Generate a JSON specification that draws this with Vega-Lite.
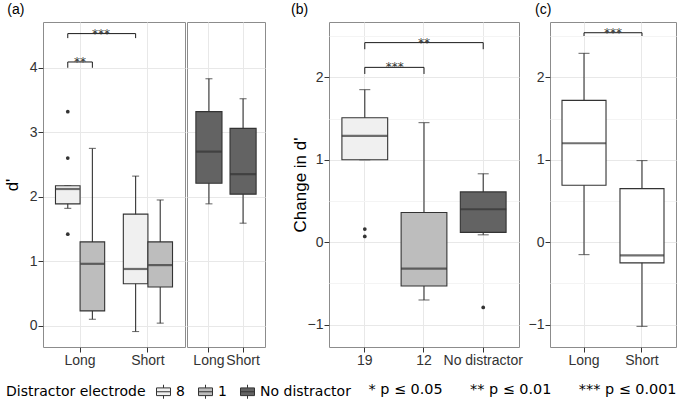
{
  "$schema": "https://vega.github.io/schema/vega-lite/v6.json",
  "padding": {"left": 2, "top": 2, "right": 5, "bottom": 2},
  "background": "white",
  "title": {"text": "* p ≤ 0.05\u00a0\u00a0\u00a0\u00a0\u00a0\u00a0** p ≤ 0.01\u00a0\u00a0\u00a0\u00a0\u00a0\u00a0*** p ≤ 0.001", "orient": "bottom", "anchor": "end", "frame": "bounds", "font": "DejaVu Sans", "fontSize": 14.4, "fontWeight": "normal", "color": "#000", "offset": -18},
  "datasets": {
    "a_box": [
      {"duration": "Long", "electrode": "8", "lo": 1.82, "q1": 1.89, "med": 2.12, "q3": 2.17, "hi": 2.17},
      {"duration": "Long", "electrode": "1", "lo": 0.10, "q1": 0.23, "med": 0.96, "q3": 1.30, "hi": 2.75},
      {"duration": "Short", "electrode": "8", "lo": -0.09, "q1": 0.65, "med": 0.88, "q3": 1.73, "hi": 2.32},
      {"duration": "Short", "electrode": "1", "lo": 0.04, "q1": 0.60, "med": 0.94, "q3": 1.30, "hi": 1.95},
      {"duration": "Long", "electrode": "No distractor", "lo": 1.89, "q1": 2.21, "med": 2.70, "q3": 3.32, "hi": 3.83},
      {"duration": "Short", "electrode": "No distractor", "lo": 1.59, "q1": 2.04, "med": 2.35, "q3": 3.06, "hi": 3.52}
    ],
    "a_out": [
      {"duration": "Long", "electrode": "8", "value": 3.32},
      {"duration": "Long", "electrode": "8", "value": 2.60},
      {"duration": "Long", "electrode": "8", "value": 1.42}
    ],
    "a_br": [
      {"id": "a1", "duration": "Long", "electrode": "8", "y": 4.0, "o": 1},
      {"id": "a1", "duration": "Long", "electrode": "8", "y": 4.09, "o": 2},
      {"id": "a1", "duration": "Long", "electrode": "1", "y": 4.09, "o": 3},
      {"id": "a1", "duration": "Long", "electrode": "1", "y": 4.0, "o": 4},
      {"id": "a2", "duration": "Long", "electrode": "8", "y": 4.46, "o": 1},
      {"id": "a2", "duration": "Long", "electrode": "8", "y": 4.53, "o": 2},
      {"id": "a2", "duration": "Short", "electrode": "8", "y": 4.53, "o": 3},
      {"id": "a2", "duration": "Short", "electrode": "8", "y": 4.46, "o": 4}
    ],
    "a_sig": [
      {"id": "a1", "duration": "Long", "y": 4.09, "label": "**"},
      {"id": "a2", "duration": "Long", "y": 4.53, "label": "***"}
    ],
    "b_box": [
      {"electrode": "19", "lo": 1.00, "q1": 1.00, "med": 1.29, "q3": 1.51, "hi": 1.85},
      {"electrode": "12", "lo": -0.70, "q1": -0.53, "med": -0.32, "q3": 0.36, "hi": 1.45},
      {"electrode": "No distractor", "lo": 0.09, "q1": 0.12, "med": 0.40, "q3": 0.61, "hi": 0.83}
    ],
    "b_out": [
      {"electrode": "19", "value": 0.16},
      {"electrode": "19", "value": 0.07},
      {"electrode": "No distractor", "value": -0.79}
    ],
    "b_br": [
      {"id": "b1", "electrode": "19", "y": 2.34, "o": 1},
      {"id": "b1", "electrode": "19", "y": 2.42, "o": 2},
      {"id": "b1", "electrode": "No distractor", "y": 2.42, "o": 3},
      {"id": "b1", "electrode": "No distractor", "y": 2.34, "o": 4},
      {"id": "b2", "electrode": "19", "y": 2.04, "o": 1},
      {"id": "b2", "electrode": "19", "y": 2.12, "o": 2},
      {"id": "b2", "electrode": "12", "y": 2.12, "o": 3},
      {"id": "b2", "electrode": "12", "y": 2.04, "o": 4}
    ],
    "b_sig": [
      {"id": "b1", "electrode": "12", "y": 2.42, "label": "**"},
      {"id": "b2", "electrode": "19", "y": 2.12, "label": "***"}
    ],
    "c_box": [
      {"duration": "Long", "lo": -0.15, "q1": 0.69, "med": 1.20, "q3": 1.72, "hi": 2.29},
      {"duration": "Short", "lo": -1.02, "q1": -0.25, "med": -0.16, "q3": 0.65, "hi": 0.99}
    ],
    "c_br": [
      {"id": "c1", "duration": "Long", "y": 2.50, "o": 1},
      {"id": "c1", "duration": "Long", "y": 2.54, "o": 2},
      {"id": "c1", "duration": "Short", "y": 2.54, "o": 3},
      {"id": "c1", "duration": "Short", "y": 2.50, "o": 4}
    ],
    "c_sig": [
      {"id": "c1", "duration": "Long", "y": 2.54, "label": "***"}
    ]
  },
  "hconcat": [
    {
      "hconcat": [
        {
          "width": 142, "height": 325,
          "title": {"text": "(a)", "dx": 4},
          "encoding": {"x": {"field": "duration", "type": "nominal", "scale": {"domain": ["Long", "Short"], "paddingInner": 0.275, "paddingOuter": 0.184}, "axis": {"title": null, "labelAngle": 0}}},
          "layer": [
            {"data": {"name": "a_box"}, "transform": [{"filter": "datum.electrode !== 'No distractor'"}],
             "mark": {"type": "rule", "color": "#333", "strokeWidth": 1.1},
             "encoding": {
               "xOffset": {"field": "electrode", "type": "nominal", "scale": {"domain": ["8", "1"], "paddingInner": 0, "paddingOuter": 0}},
               "y": {"field": "lo", "type": "quantitative", "scale": {"domain": [-0.33, 4.71], "nice": false, "zero": false},
                     "axis": {"title": "d'", "values": [0, 0.5, 1, 1.5, 2, 2.5, 3, 3.5, 4, 4.5], "labelExpr": "datum.value % 1 === 0 ? format(datum.value, 'd') : ''", "labelOverlap": false, "titlePadding": 8,
                              "tickColor": {"condition": {"test": "datum.value % 1 !== 0", "value": "transparent"}, "value": "#333"},
                              "gridColor": {"condition": {"test": "datum.value % 1 !== 0", "value": "#f4f4f4"}, "value": "#e8e8e8"}}},
               "y2": {"field": "hi"}}},
            {"data": {"name": "a_box"}, "transform": [{"filter": "datum.electrode !== 'No distractor'"}],
             "mark": {"type": "tick", "color": "#333", "size": 7, "thickness": 1.1},
             "encoding": {"xOffset": {"field": "electrode", "type": "nominal", "scale": {"domain": ["8", "1"], "paddingInner": 0, "paddingOuter": 0}},
               "y": {"field": "lo", "type": "quantitative", "scale": {"domain": [-0.33, 4.71], "nice": false, "zero": false}}}},
            {"data": {"name": "a_box"}, "transform": [{"filter": "datum.electrode !== 'No distractor'"}],
             "mark": {"type": "tick", "color": "#333", "size": 7, "thickness": 1.1},
             "encoding": {"xOffset": {"field": "electrode", "type": "nominal", "scale": {"domain": ["8", "1"], "paddingInner": 0, "paddingOuter": 0}},
               "y": {"field": "hi", "type": "quantitative", "scale": {"domain": [-0.33, 4.71], "nice": false, "zero": false}}}},
            {"data": {"name": "a_box"}, "transform": [{"filter": "datum.electrode !== 'No distractor'"}],
             "mark": {"type": "bar", "stroke": "#333", "strokeWidth": 1.1},
             "encoding": {"xOffset": {"field": "electrode", "type": "nominal", "scale": {"domain": ["8", "1"], "paddingInner": 0, "paddingOuter": 0}},
               "y": {"field": "q1", "type": "quantitative", "scale": {"domain": [-0.33, 4.71], "nice": false, "zero": false}},
               "y2": {"field": "q3"},
               "fill": {"field": "electrode", "type": "nominal", "scale": {"domain": ["8", "1", "No distractor"], "range": ["#f0f0f0", "#bdbdbd", "#636363"]},
                        "legend": {"orient": "none", "legendX": -37, "legendY": 362, "direction": "horizontal", "title": "Distractor electrode", "titleOrient": "left", "titleFont": "DejaVu Sans", "titleFontSize": 14, "titleFontWeight": "normal", "titleColor": "#000", "titlePadding": 10, "labelFont": "DejaVu Sans", "labelFontSize": 14, "labelColor": "#000", "labelOffset": 5, "columnPadding": 11, "symbolType": "M-1,-0.55H1V0.55H-1Z M-1,0H1 M0,-0.55V-1 M0,0.55V1", "symbolSize": 196, "symbolStrokeColor": "#333", "symbolStrokeWidth": 1}}}},
            {"data": {"name": "a_box"}, "transform": [{"filter": "datum.electrode !== 'No distractor'"}],
             "mark": {"type": "tick", "color": "#333", "size": 24, "thickness": 2.2},
             "encoding": {"xOffset": {"field": "electrode", "type": "nominal", "scale": {"domain": ["8", "1"], "paddingInner": 0, "paddingOuter": 0}},
               "y": {"field": "med", "type": "quantitative", "scale": {"domain": [-0.33, 4.71], "nice": false, "zero": false}}}},
            {"data": {"name": "a_out"},
             "mark": {"type": "point", "filled": true, "color": "#333", "size": 14, "opacity": 1},
             "encoding": {"xOffset": {"field": "electrode", "type": "nominal", "scale": {"domain": ["8", "1"], "paddingInner": 0, "paddingOuter": 0}},
               "y": {"field": "value", "type": "quantitative", "scale": {"domain": [-0.33, 4.71], "nice": false, "zero": false}}}},
            {"data": {"name": "a_br"},
             "mark": {"type": "line", "color": "#1a1a1a", "strokeWidth": 1},
             "encoding": {"xOffset": {"field": "electrode", "type": "nominal", "scale": {"domain": ["8", "1"], "paddingInner": 0, "paddingOuter": 0}},
               "y": {"field": "y", "type": "quantitative", "scale": {"domain": [-0.33, 4.71], "nice": false, "zero": false}},
               "detail": {"field": "id"}, "order": {"field": "o"}}},
            {"data": {"name": "a_sig"}, "transform": [{"filter": "datum.id === 'a1'"}],
             "mark": {"type": "text", "font": "DejaVu Sans", "fontSize": 12, "color": "#333", "baseline": "alphabetic", "dy": 4},
             "encoding": {"y": {"field": "y", "type": "quantitative", "scale": {"domain": [-0.33, 4.71], "nice": false, "zero": false}}, "text": {"field": "label"}}},
            {"data": {"name": "a_sig"}, "transform": [{"filter": "datum.id === 'a2'"}],
             "mark": {"type": "text", "font": "DejaVu Sans", "fontSize": 12, "color": "#333", "baseline": "alphabetic", "dy": 4, "dx": 21},
             "encoding": {"y": {"field": "y", "type": "quantitative", "scale": {"domain": [-0.33, 4.71], "nice": false, "zero": false}}, "text": {"field": "label"}}}
          ]
        },
        {
          "width": 78, "height": 325,
          "encoding": {"x": {"field": "duration", "type": "nominal", "scale": {"domain": ["Long", "Short"], "paddingInner": 0.235, "paddingOuter": 0.26}, "axis": {"title": null, "labelAngle": 0}}},
          "layer": [
            {"data": {"name": "a_box"}, "transform": [{"filter": "datum.electrode === 'No distractor'"}],
             "mark": {"type": "rule", "color": "#333", "strokeWidth": 1.1},
             "encoding": {
               "y": {"field": "lo", "type": "quantitative", "scale": {"domain": [-0.33, 4.71], "nice": false, "zero": false},
                     "axis": {"title": null, "values": [0, 0.5, 1, 1.5, 2, 2.5, 3, 3.5, 4, 4.5], "labels": false, "ticks": false, "domain": false,
                              "gridColor": {"condition": {"test": "datum.value % 1 !== 0", "value": "#f4f4f4"}, "value": "#e8e8e8"}}},
               "y2": {"field": "hi"}}},
            {"data": {"name": "a_box"}, "transform": [{"filter": "datum.electrode === 'No distractor'"}],
             "mark": {"type": "tick", "color": "#333", "size": 7, "thickness": 1.1},
             "encoding": {"y": {"field": "lo", "type": "quantitative", "scale": {"domain": [-0.33, 4.71], "nice": false, "zero": false}}}},
            {"data": {"name": "a_box"}, "transform": [{"filter": "datum.electrode === 'No distractor'"}],
             "mark": {"type": "tick", "color": "#333", "size": 7, "thickness": 1.1},
             "encoding": {"y": {"field": "hi", "type": "quantitative", "scale": {"domain": [-0.33, 4.71], "nice": false, "zero": false}}}},
            {"data": {"name": "a_box"}, "transform": [{"filter": "datum.electrode === 'No distractor'"}],
             "mark": {"type": "bar", "stroke": "#333", "strokeWidth": 1.1},
             "encoding": {
               "y": {"field": "q1", "type": "quantitative", "scale": {"domain": [-0.33, 4.71], "nice": false, "zero": false}},
               "y2": {"field": "q3"},
               "fill": {"field": "electrode", "type": "nominal", "scale": {"domain": ["8", "1", "No distractor"], "range": ["#f0f0f0", "#bdbdbd", "#636363"]}}}},
            {"data": {"name": "a_box"}, "transform": [{"filter": "datum.electrode === 'No distractor'"}],
             "mark": {"type": "tick", "color": "#333", "size": 26, "thickness": 2.2},
             "encoding": {"y": {"field": "med", "type": "quantitative", "scale": {"domain": [-0.33, 4.71], "nice": false, "zero": false}}}}
          ]
        }
      ],
      "spacing": 0,
      "resolve": {"scale": {"x": "independent", "y": "independent", "fill": "shared"}}
    },
    {
      "hconcat": [
        {
          "width": 190, "height": 325,
          "title": {"text": "(b)", "dx": 0},
          "encoding": {"x": {"field": "electrode", "type": "nominal", "scale": {"domain": ["19", "12", "No distractor"], "paddingInner": 0.227, "paddingOuter": 0.218}, "axis": {"title": null, "labelAngle": 0}}},
          "layer": [
            {"data": {"name": "b_box"},
             "mark": {"type": "rule", "color": "#333", "strokeWidth": 1.1},
             "encoding": {
               "y": {"field": "lo", "type": "quantitative", "scale": {"domain": [-1.27, 2.67], "nice": false, "zero": false},
                     "axis": {"title": "Change in d'", "values": [-1, -0.5, 0, 0.5, 1, 1.5, 2, 2.5], "labelExpr": "datum.value % 1 === 0 ? format(datum.value, 'd') : ''", "labelOverlap": false, "titlePadding": -2,
                              "tickColor": {"condition": {"test": "datum.value % 1 !== 0", "value": "transparent"}, "value": "#333"},
                              "gridColor": {"condition": {"test": "datum.value % 1 !== 0", "value": "#f4f4f4"}, "value": "#e8e8e8"}}},
               "y2": {"field": "hi"}}},
            {"data": {"name": "b_box"},
             "mark": {"type": "tick", "color": "#333", "size": 11, "thickness": 1.1},
             "encoding": {"y": {"field": "lo", "type": "quantitative", "scale": {"domain": [-1.27, 2.67], "nice": false, "zero": false}}}},
            {"data": {"name": "b_box"},
             "mark": {"type": "tick", "color": "#333", "size": 11, "thickness": 1.1},
             "encoding": {"y": {"field": "hi", "type": "quantitative", "scale": {"domain": [-1.27, 2.67], "nice": false, "zero": false}}}},
            {"data": {"name": "b_box"},
             "mark": {"type": "bar", "stroke": "#333", "strokeWidth": 1.1},
             "encoding": {
               "y": {"field": "q1", "type": "quantitative", "scale": {"domain": [-1.27, 2.67], "nice": false, "zero": false}},
               "y2": {"field": "q3"},
               "color": {"field": "electrode", "type": "nominal", "scale": {"domain": ["19", "12", "No distractor"], "range": ["#f0f0f0", "#bdbdbd", "#636363"]}, "legend": null}}},
            {"data": {"name": "b_box"},
             "mark": {"type": "tick", "color": "#333", "size": 46, "thickness": 2.2},
             "encoding": {"y": {"field": "med", "type": "quantitative", "scale": {"domain": [-1.27, 2.67], "nice": false, "zero": false}}}},
            {"data": {"name": "b_out"},
             "mark": {"type": "point", "filled": true, "color": "#333", "size": 14, "opacity": 1},
             "encoding": {"y": {"field": "value", "type": "quantitative", "scale": {"domain": [-1.27, 2.67], "nice": false, "zero": false}}}},
            {"data": {"name": "b_br"},
             "mark": {"type": "line", "color": "#1a1a1a", "strokeWidth": 1},
             "encoding": {"y": {"field": "y", "type": "quantitative", "scale": {"domain": [-1.27, 2.67], "nice": false, "zero": false}},
               "detail": {"field": "id"}, "order": {"field": "o"}}},
            {"data": {"name": "b_sig"}, "transform": [{"filter": "datum.id === 'b1'"}],
             "mark": {"type": "text", "font": "DejaVu Sans", "fontSize": 12, "color": "#333", "baseline": "alphabetic", "dy": 4},
             "encoding": {"y": {"field": "y", "type": "quantitative", "scale": {"domain": [-1.27, 2.67], "nice": false, "zero": false}}, "text": {"field": "label"}}},
            {"data": {"name": "b_sig"}, "transform": [{"filter": "datum.id === 'b2'"}],
             "mark": {"type": "text", "font": "DejaVu Sans", "fontSize": 12, "color": "#333", "baseline": "alphabetic", "dy": 4, "dx": 30},
             "encoding": {"y": {"field": "y", "type": "quantitative", "scale": {"domain": [-1.27, 2.67], "nice": false, "zero": false}}, "text": {"field": "label"}}}
          ]
        },
        {
          "width": 126, "height": 325,
          "title": {"text": "(c)", "dx": 7},
          "encoding": {"x": {"field": "duration", "type": "nominal", "scale": {"domain": ["Long", "Short"], "paddingInner": 0.241, "paddingOuter": 0.207}, "axis": {"title": null, "labelAngle": 0}}},
          "layer": [
            {"data": {"name": "c_box"},
             "mark": {"type": "rule", "color": "#333", "strokeWidth": 1.1},
             "encoding": {
               "y": {"field": "lo", "type": "quantitative", "scale": {"domain": [-1.27, 2.67], "nice": false, "zero": false},
                     "axis": {"title": null, "values": [-1, -0.5, 0, 0.5, 1, 1.5, 2, 2.5], "labelExpr": "datum.value % 1 === 0 ? format(datum.value, 'd') : ''", "labelOverlap": false,
                              "tickColor": {"condition": {"test": "datum.value % 1 !== 0", "value": "transparent"}, "value": "#333"},
                              "gridColor": {"condition": {"test": "datum.value % 1 !== 0", "value": "#f4f4f4"}, "value": "#e8e8e8"}}},
               "y2": {"field": "hi"}}},
            {"data": {"name": "c_box"},
             "mark": {"type": "tick", "color": "#333", "size": 11, "thickness": 1.1},
             "encoding": {"y": {"field": "lo", "type": "quantitative", "scale": {"domain": [-1.27, 2.67], "nice": false, "zero": false}}}},
            {"data": {"name": "c_box"},
             "mark": {"type": "tick", "color": "#333", "size": 11, "thickness": 1.1},
             "encoding": {"y": {"field": "hi", "type": "quantitative", "scale": {"domain": [-1.27, 2.67], "nice": false, "zero": false}}}},
            {"data": {"name": "c_box"},
             "mark": {"type": "bar", "stroke": "#333", "strokeWidth": 1.1, "fill": "white"},
             "encoding": {
               "y": {"field": "q1", "type": "quantitative", "scale": {"domain": [-1.27, 2.67], "nice": false, "zero": false}},
               "y2": {"field": "q3"}}},
            {"data": {"name": "c_box"},
             "mark": {"type": "tick", "color": "#333", "size": 44, "thickness": 2.2},
             "encoding": {"y": {"field": "med", "type": "quantitative", "scale": {"domain": [-1.27, 2.67], "nice": false, "zero": false}}}},
            {"data": {"name": "c_br"},
             "mark": {"type": "line", "color": "#1a1a1a", "strokeWidth": 1},
             "encoding": {"y": {"field": "y", "type": "quantitative", "scale": {"domain": [-1.27, 2.67], "nice": false, "zero": false}},
               "detail": {"field": "id"}, "order": {"field": "o"}}},
            {"data": {"name": "c_sig"},
             "mark": {"type": "text", "font": "DejaVu Sans", "fontSize": 12, "color": "#333", "baseline": "alphabetic", "dy": 4, "dx": 29},
             "encoding": {"y": {"field": "y", "type": "quantitative", "scale": {"domain": [-1.27, 2.67], "nice": false, "zero": false}}, "text": {"field": "label"}}}
          ]
        }
      ],
      "spacing": 4,
      "resolve": {"scale": {"x": "independent", "y": "independent", "color": "independent"}}
    }
  ],
  "spacing": 24,
  "resolve": {"scale": {"x": "independent", "y": "independent", "fill": "shared", "color": "independent"}},
  "config": {
    "font": "Liberation Sans",
    "view": {"stroke": "#8c8c8c", "strokeWidth": 1},
    "axis": {"domain": false, "grid": true, "gridColor": "#e8e8e8", "gridWidth": 1, "tickColor": "#333", "tickSize": 5, "labelFont": "Liberation Sans", "labelFontSize": 14, "labelColor": "#333", "labelPadding": 1, "titleFont": "Liberation Sans", "titleFontSize": 17, "titleFontWeight": "normal", "titleColor": "#000"},
    "title": {"font": "Liberation Sans", "fontSize": 14, "fontWeight": "normal", "anchor": "start", "frame": "bounds", "offset": 5, "color": "#000"}
  }
}
